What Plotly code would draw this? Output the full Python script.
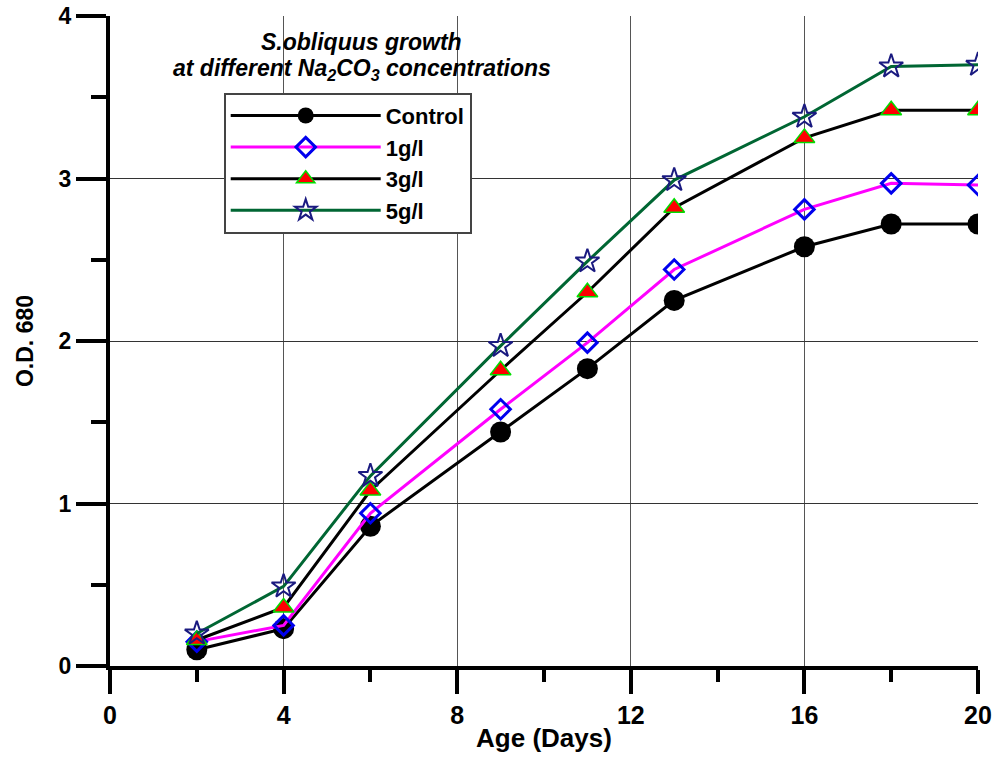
import plotly.graph_objects as go

days = [2, 4, 6, 9, 11, 13, 16, 18, 20]
control = [0.10, 0.23, 0.86, 1.44, 1.83, 2.25, 2.58, 2.72, 2.72]
g1 = [0.15, 0.25, 0.94, 1.58, 1.99, 2.44, 2.81, 2.97, 2.96]
g3 = [0.16, 0.36, 1.08, 1.82, 2.30, 2.82, 3.25, 3.42, 3.42]
g5 = [0.20, 0.49, 1.17, 1.97, 2.49, 2.99, 3.38, 3.69, 3.70]

fig = go.Figure()
fig.add_trace(go.Scatter(x=days, y=control, name="Control", mode="lines+markers",
                         line=dict(color="black", width=3),
                         marker=dict(symbol="circle", size=21, color="black")))
fig.add_trace(go.Scatter(x=days, y=g1, name="1g/l", mode="lines+markers",
                         line=dict(color="#ff00ff", width=3),
                         marker=dict(symbol="diamond-open", size=15, color="#0000ee",
                                     line=dict(width=3, color="#0000ee"))))
fig.add_trace(go.Scatter(x=days, y=g3, name="3g/l", mode="lines+markers",
                         line=dict(color="black", width=3),
                         marker=dict(symbol="triangle-up", size=18, color="#ff0000",
                                     line=dict(width=1.5, color="#00dd00"))))
fig.add_trace(go.Scatter(x=days, y=g5, name="5g/l", mode="lines+markers",
                         line=dict(color="#006633", width=3),
                         marker=dict(symbol="star-open", size=18, color="#1a1a80",
                                     line=dict(width=2, color="#1a1a80"))))

fig.update_layout(
    width=1000, height=758,
    margin=dict(l=110, r=22, t=16, b=92),
    paper_bgcolor="white", plot_bgcolor="white",
    font=dict(family="Liberation Sans", color="black"),
    legend=dict(x=0.131, y=0.882, xanchor="left", yanchor="top",
                bordercolor="#444", borderwidth=2, bgcolor="white",
                font=dict(family="Liberation Sans", size=22, color="black", weight="bold"),
                itemwidth=150, tracegroupgap=0),
    xaxis=dict(range=[0, 20], dtick=4, tick0=0, automargin=False,
               showline=True, linecolor="black", linewidth=4,
               ticks="outside", ticklen=24, tickwidth=4, tickcolor="black",
               minor=dict(dtick=2, ticks="outside", ticklen=12, tickwidth=4, tickcolor="black", showgrid=False),
               showgrid=True, gridcolor="#555", gridwidth=1.3,
               zeroline=False,
               tickfont=dict(family="Liberation Sans Narrow, Liberation Sans", size=25, color="black", weight="bold"),
               title=dict(text="<b>Age (Days)</b>", standoff=2,
                          font=dict(family="Liberation Sans Narrow, Liberation Sans", size=26, color="black"))),
    yaxis=dict(range=[0, 4], dtick=1, tick0=0, automargin=False,
               showline=True, linecolor="black", linewidth=4,
               ticks="outside", ticklen=30, tickwidth=4, tickcolor="black",
               minor=dict(dtick=0.5, ticks="outside", ticklen=15, tickwidth=4, tickcolor="black", showgrid=False),
               showgrid=True, gridcolor="#333", gridwidth=1,
               zeroline=False,
               tickfont=dict(family="Liberation Sans", size=23, color="black", weight="bold"),
               title=dict(text="<b>O.D. 680</b>", standoff=20,
                          font=dict(family="Liberation Sans Narrow, Liberation Sans", size=23, color="black"))),
    annotations=[
        dict(x=0.29, y=42, xref="paper", yref="paper", xanchor="center", yanchor="middle",
             showarrow=False, text="<b><i>S.obliquus growth</i></b>",
             font=dict(family="Liberation Sans", size=23, color="black", weight="bold")),
        dict(x=0.29, y=69, xref="paper", yref="paper", xanchor="center", yanchor="middle",
             showarrow=False, text="<b><i>at different Na<sub>2</sub>CO<sub>3</sub> concentrations</i></b>",
             font=dict(family="Liberation Sans", size=23, color="black", weight="bold")),
    ]
)
# convert pixel y to paper coords for title lines
plot_top, plot_h = 16, 758 - 16 - 92
for a in fig.layout.annotations:
    a.y = 1 - (a.y - plot_top) / plot_h

fig.write_html("out.html")
